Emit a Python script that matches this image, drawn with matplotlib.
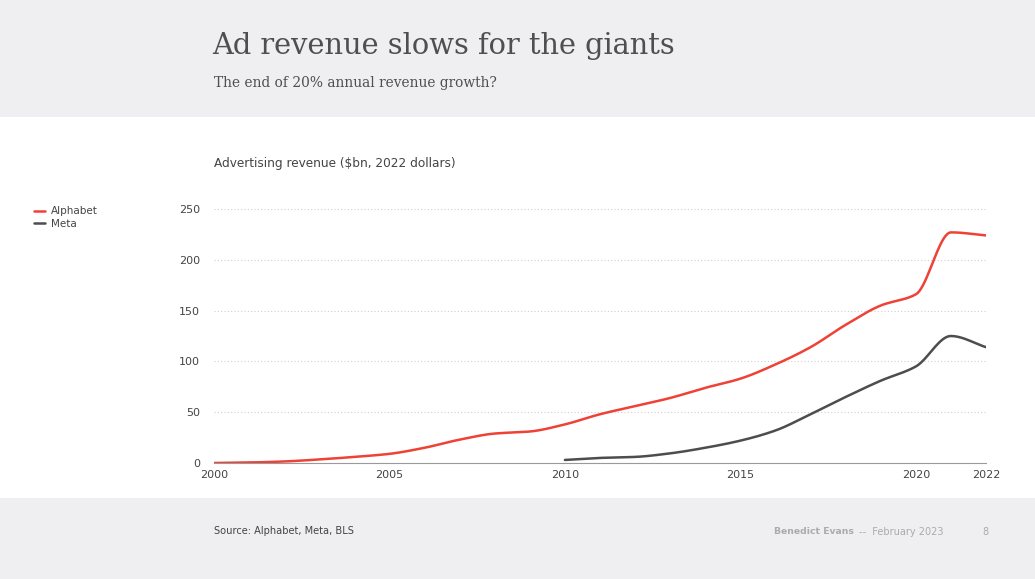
import numpy as np
import matplotlib
matplotlib.use("Agg")
import matplotlib.pyplot as plt
from matplotlib.patches import Rectangle

years = list(range(2000, 2023))
alphabet = [0, 0.5, 1.5, 3.5, 6, 9, 15, 23, 29, 31, 38, 48, 56, 64, 74, 83,
            97, 114, 136, 155, 166, 227, 224]
meta_years = list(range(2010, 2023))
meta = [3, 5, 6, 9.5, 15, 22, 32, 48, 65, 81, 95, 125, 114]

x_ticks = [2000, 2005, 2010, 2015, 2020, 2022]
y_ticks = [0, 50, 100, 150, 200, 250]

RED = "#ef4136"
DARK = "#4d4d4f"
GREY_BG = "#efeff1"


def smooth(xs, ys, n=20):
    # monotone cubic (Fritsch-Carlson) just for the curve look
    xs = np.asarray(xs, float)
    ys = np.asarray(ys, float)
    h = np.diff(xs)
    d = np.diff(ys) / h
    m = np.zeros_like(ys)
    m[0], m[-1] = d[0], d[-1]
    for i in range(1, len(ys) - 1):
        if d[i - 1] * d[i] <= 0:
            m[i] = 0
        else:
            m[i] = 2 / (1 / d[i - 1] + 1 / d[i])
    ox, oy = [], []
    for i in range(len(xs) - 1):
        t = np.linspace(0, 1, n, endpoint=False)
        h00 = 2 * t**3 - 3 * t**2 + 1
        h10 = t**3 - 2 * t**2 + t
        h01 = -2 * t**3 + 3 * t**2
        h11 = t**3 - t**2
        ox.extend(xs[i] + t * h[i])
        oy.extend(h00 * ys[i] + h10 * h[i] * m[i] + h01 * ys[i + 1] + h11 * h[i] * m[i + 1])
    ox.append(xs[-1])
    oy.append(ys[-1])
    return np.array(ox), np.array(oy)


W, H = 1035, 579
fig = plt.figure(figsize=(W / 100, H / 100), dpi=100)
fig.patch.set_facecolor("white")

# header and footer bands
fig.add_artist(Rectangle((0, 1 - 117 / H), 1, 117 / H, transform=fig.transFigure,
                         facecolor=GREY_BG, edgecolor="none", zorder=0))
fig.add_artist(Rectangle((0, 0), 1, 81 / H, transform=fig.transFigure,
                         facecolor=GREY_BG, edgecolor="none", zorder=0))

fig.text(212 / W, 1 - 46 / H, "Ad revenue slows for the giants", fontsize=20.8,
         family="DejaVu Serif", color="#4f4f51", va="center", ha="left")
fig.text(214 / W, 1 - 83 / H, "The end of 20% annual revenue growth?", fontsize=9.9,
         family="DejaVu Serif", color="#4f4f51", va="center", ha="left")

fig.text(214 / W, 1 - 163 / H, "Advertising revenue ($bn, 2022 dollars)", fontsize=8.7,
         color="#444444", va="center", ha="left")

ax = fig.add_axes([214 / W, (H - 463) / H, 772 / W, 254 / H])
ax.set_facecolor("none")

l1, = ax.plot(*smooth(years, alphabet), color=RED, lw=1.8, solid_capstyle="round", label="Alphabet")
l2, = ax.plot(*smooth(meta_years, meta), color=DARK, lw=1.8, solid_capstyle="round", label="Meta")

ax.set_xlim(2000, 2022)
ax.set_ylim(0, 250)
ax.set_xticks(x_ticks)
ax.set_xticklabels([str(t) for t in x_ticks])
ax.set_yticks(y_ticks)
ax.tick_params(length=0, labelsize=8, colors="#444444")
ax.tick_params(axis="y", pad=10)
ax.tick_params(axis="x", pad=5)
ax.grid(axis="y", color="#cfcfcf", lw=0.8, ls=(0, (1, 2)))
ax.set_axisbelow(True)
for s in ["top", "right", "left"]:
    ax.spines[s].set_visible(False)
ax.spines["bottom"].set_color("#9a9a9a")
ax.spines["bottom"].set_linewidth(0.8)

fig.legend(handles=[l1, l2], loc="upper left", bbox_to_anchor=(30 / W, 1 - 202 / H),
           frameon=False, fontsize=7.5, handlelength=1.0, handletextpad=0.6,
           labelspacing=0.25, borderaxespad=0, labelcolor="#444444")

fig.text(214 / W, 1 - 531 / H, "Source: Alphabet, Meta, BLS", fontsize=7.1,
         color="#444444", va="center", ha="left")
fig.text(774 / W, 1 - 532 / H, "Benedict Evans", fontsize=6.7, weight="bold",
         color="#ababab", va="center", ha="left")
fig.text(859 / W, 1 - 532 / H, "--  February 2023", fontsize=7,
         color="#ababab", va="center", ha="left")
fig.text(985 / W, 1 - 532 / H, "8", fontsize=7,
         color="#ababab", va="center", ha="center")

fig.savefig("out.png", dpi=100)
